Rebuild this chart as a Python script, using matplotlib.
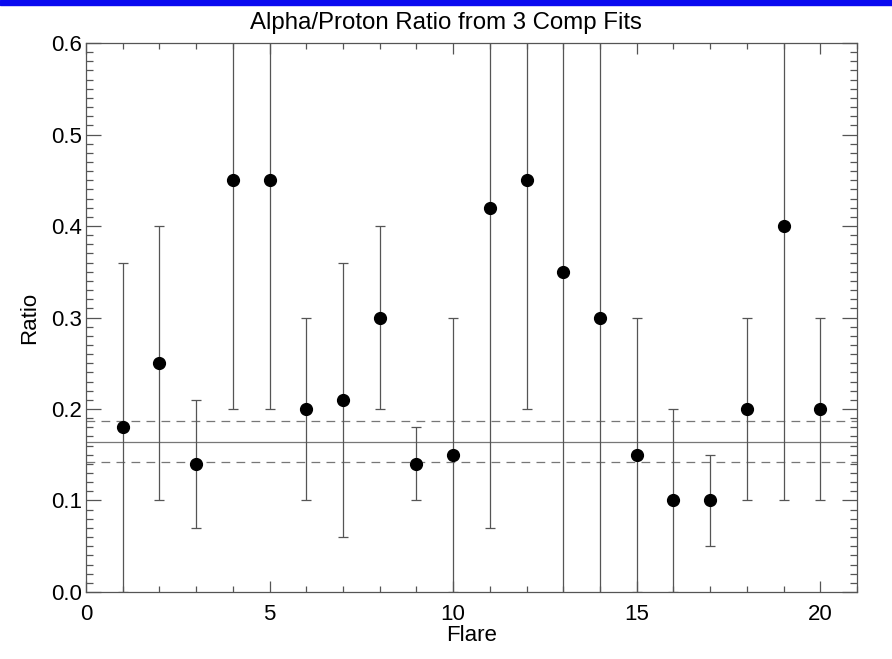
import matplotlib.pyplot as plt
from matplotlib.ticker import MultipleLocator

plt.rcParams["font.family"] = ["Liberation Sans", "DejaVu Sans"]

flare = [1, 2, 3, 4, 5, 6, 7, 8, 9, 10, 11, 12, 13, 14, 15, 16, 17, 18, 19, 20]
ratio = [0.18, 0.25, 0.14, 0.45, 0.45, 0.20, 0.21, 0.30, 0.14, 0.15,
         0.42, 0.45, 0.35, 0.30, 0.15, 0.10, 0.10, 0.20, 0.40, 0.20]
err = [0.18, 0.15, 0.07, 0.25, 0.25, 0.10, 0.15, 0.10, 0.04, 0.15,
       0.35, 0.25, 0.40, 0.35, 0.15, 0.10, 0.05, 0.10, 0.30, 0.10]
mean_ratio = 0.164
mean_lo = 0.142
mean_hi = 0.187

fig = plt.figure(figsize=(8.92, 6.59), dpi=100)
ax = fig.add_axes([0.0964, 0.1017, 0.8644, 0.833])

# blue strip across the top
fig.patches.append(plt.Rectangle((0, 0.992), 1, 0.008, transform=fig.transFigure,
                                 color="#0a0af0", zorder=10))

ax.axhline(mean_ratio, color="#777777", lw=0.9, zorder=1)
for y in (mean_lo, mean_hi):
    ax.axhline(y, color="#777777", lw=0.9, ls=(0, (7, 5)), zorder=1)

ax.errorbar(flare, ratio, yerr=err, fmt="none", ecolor="#555555",
            elinewidth=0.9, capsize=3.5, capthick=0.9, zorder=2)
ax.plot(flare, ratio, "o", color="black", ms=8.5, zorder=3)

ax.set_xlim(0, 21)
ax.set_ylim(0, 0.6)
ax.xaxis.set_major_locator(MultipleLocator(5))
ax.xaxis.set_minor_locator(MultipleLocator(1))
ax.yaxis.set_major_locator(MultipleLocator(0.1))
ax.yaxis.set_minor_locator(MultipleLocator(0.01))
ax.yaxis.set_major_formatter(plt.FuncFormatter(lambda v, p: f"{v:.1f}"))

ax.tick_params(which="both", direction="in", top=True, right=True,
               color="#555555", width=0.9, labelsize=16)
ax.tick_params(axis="y", which="major", length=11, pad=3)
ax.tick_params(axis="y", which="minor", length=5)
ax.tick_params(axis="x", which="major", length=8, pad=9)
ax.tick_params(axis="x", which="minor", length=4)
for s in ax.spines.values():
    s.set_color("#555555")
    s.set_linewidth(0.9)

fig.text(0.5, 0.965, "Alpha/Proton Ratio from 3 Comp Fits", fontsize=17.3,
         ha="center", va="center")
ax.set_xlabel("Flare", fontsize=16, labelpad=0)
ax.set_ylabel("Ratio", fontsize=16, labelpad=8)

fig.savefig("out.png", dpi=100)
